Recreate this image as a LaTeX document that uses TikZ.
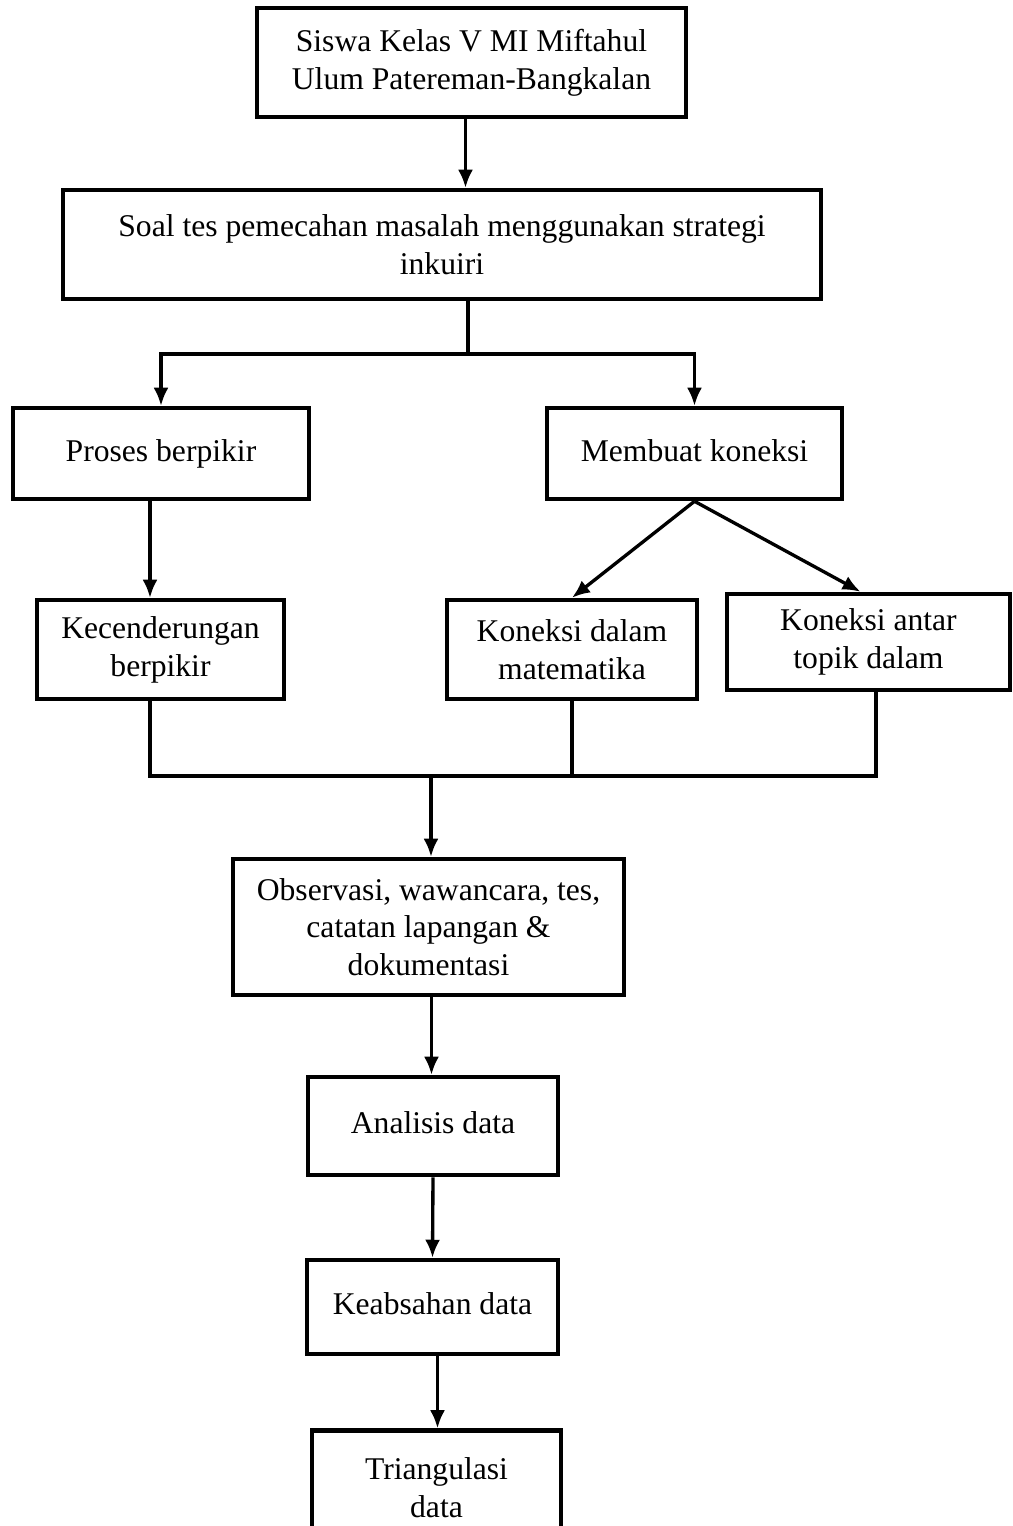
\documentclass[tikz,border=0pt]{standalone}
\usepackage{fontspec}
\setmainfont{Liberation Serif}
\usepackage{tikz}
\usetikzlibrary{arrows.meta}

\begin{document}
\begin{tikzpicture}[
    x=0.02cm, y=-0.02cm,
    box/.style={draw, rectangle, line width=2.6pt, align=center, inner sep=2pt,
                font=\fontsize{18}{21.5}\selectfont},
    line/.style={line width=1.9pt},
    arr/.style={line width=1.9pt, -{Latex[length=0.36cm,width=0.3cm]}}
]
    \clip (0,0) rectangle (1013,1526);

    % Subjek dan instrumen
    \node[box, minimum width=8.58cm, minimum height=2.18cm] (siswa) at (471.5,62.5)
        {Siswa Kelas V MI Miftahul\\Ulum Patereman-Bangkalan};
    \node[box, minimum width=15.16cm, minimum height=2.18cm] (soal) at (442,244.5)
        {Soal tes pemecahan masalah menggunakan strategi\\inkuiri};

    % Fokus penelitian
    \node[box, minimum width=5.92cm, minimum height=1.82cm] (proses) at (161,453.5) {Proses berpikir\strut};
    \node[box, minimum width=5.9cm, minimum height=1.82cm] (koneksi) at (694.5,453.5) {Membuat koneksi\strut};

    % Sub fokus
    \node[box, minimum width=4.94cm, minimum height=1.98cm] (cenderung) at (160.5,649.5)
        {Kecenderungan\\berpikir};
    \node[box, minimum width=5.0cm, minimum height=1.98cm] (dalam) at (572,649.5)
        {Koneksi dalam\\matematika};
    \node[box, minimum width=5.66cm, minimum height=1.92cm] (antar) at (868.5,642)
        {Koneksi antar\\topik dalam};

    % Pengumpulan dan analisis data
    \node[box, minimum width=7.82cm, minimum height=2.72cm] (observasi) at (428.5,927)
        {Observasi, wawancara, tes,\\catatan lapangan \&\\dokumentasi};
    \node[box, minimum width=5.0cm, minimum height=1.96cm] (analisis) at (433,1126) {Analisis data\strut};
    \node[box, minimum width=5.02cm, minimum height=1.88cm] (absah) at (432.5,1307) {Keabsahan data\strut};
    \node[box, minimum width=4.98cm, minimum height=2.3cm] (triangulasi) at (436.5,1488)
        {Triangulasi\\data};

    % Titik cabang
    \coordinate (cabang) at (468,354);
    \coordinate (gabungL) at (150,776);
    \coordinate (gabungR) at (876,776);
    \coordinate (gabung) at (431,776);

    % Arrows
    \draw[arr] ([xshift=-0.12cm]siswa.south) -- ([xshift=-0.12cm]siswa.south |- soal.north);
    \draw[line] (soal.south -| cabang) -- (cabang);
    \draw[arr] (cabang) -| (proses.north);
    \draw[arr] (cabang) -| (koneksi.north);

    \draw[arr] ([xshift=-0.22cm]proses.south) -- ([xshift=-0.22cm]proses.south |- cenderung.north);
    \draw[arr] (koneksi.south) -- (dalam.north);
    \draw[arr] (koneksi.south) -- ([xshift=-0.16cm]antar.north);

    \draw[line] (cenderung.south -| gabungL) -- (gabungL) -- (gabungR) -- (antar.south -| gabungR);
    \draw[line] (dalam.south) -- (dalam.south |- gabung);
    \draw[arr] (gabung) -- (observasi.north -| gabung);

    \draw[arr] ([xshift=0.06cm]observasi.south) -- ([xshift=0.06cm]observasi.south |- analisis.north);
    \draw[arr] (analisis.south) -- (absah.north);
    \draw[arr] ([xshift=0.1cm]absah.south) -- ([xshift=0.1cm]absah.south |- triangulasi.north);
\end{tikzpicture}
\end{document}
